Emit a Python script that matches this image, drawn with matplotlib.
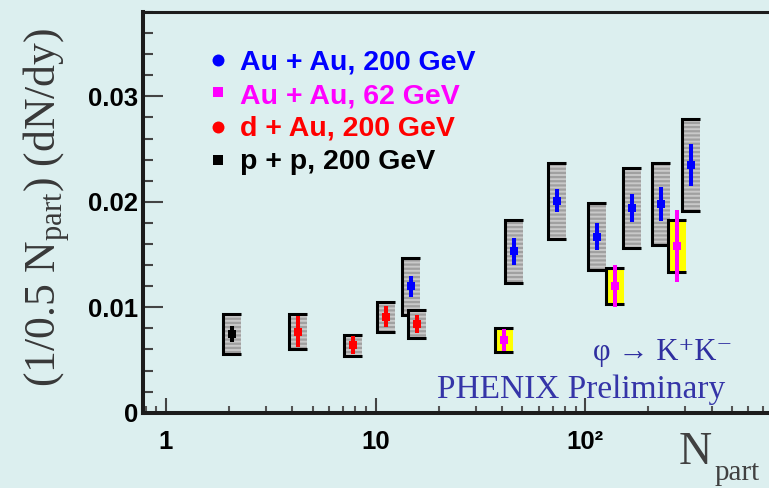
import matplotlib
matplotlib.use('Agg')
import matplotlib.pyplot as plt
from matplotlib.patches import Rectangle
from matplotlib.ticker import FixedLocator, MultipleLocator, NullFormatter, LogLocator

# Au + Au, 200 GeV
auau200_npart = [14.8, 45.6, 73.4, 113.8, 167, 229.8, 318.5]
auau200_y = [0.0120, 0.0153, 0.0201, 0.0167, 0.0194, 0.0198, 0.0235]
auau200_stat = [0.0010, 0.0013, 0.0011, 0.00125, 0.0013, 0.0016, 0.0020]
auau200_sys = [0.0027, 0.0030, 0.0036, 0.0032, 0.0038, 0.0039, 0.0044]

# Au + Au, 62 GeV
auau62_npart = [41, 139, 275]
auau62_y = [0.0069, 0.0120, 0.0158]
auau62_stat = [0.00105, 0.0020, 0.0034]
auau62_sys = [0.00114, 0.0017, 0.0025]

# d + Au, 200 GeV
dau_npart = [4.24, 7.82, 11.2, 15.8]
dau_y = [0.0077, 0.0064, 0.0091, 0.0084]
dau_stat = [0.0015, 0.00087, 0.00098, 0.00087]
dau_sys = [0.00166, 0.00101, 0.00144, 0.0013]

# p + p, 200 GeV
pp_npart = [2.07]
pp_y = [0.0075]
pp_stat = [0.00075]
pp_sys = [0.0019]

legend_labels = ['Au + Au, 200 GeV', 'Au + Au, 62 GeV', 'd + Au, 200 GeV', 'p + p, 200 GeV']
legend_colors = ['#0000ff', '#ff00ff', '#ff0000', '#000000']
legend_markers = ['o', 's', 'o', 's']

y_ticks = [0, 0.01, 0.02, 0.03]
y_ticklabels = ['0', '0.01', '0.02', '0.03']
x_ticks = [1, 10, 100]
x_ticklabels = ['1', '10', '10²']

bg = '#dcefef'
W, H = 769, 488
plt.rcParams['hatch.linewidth'] = 1.6


def fx(px):
    return px / W


def fy(py):
    return 1 - py / H


def caixas(ax, x, y, sys, cor, padrao):
    for xi, yi, si in zip(x, y, sys):
        x0 = xi / 1.104
        x1 = xi * 1.104
        ax.add_patch(Rectangle((x0, yi - si), x1 - x0, 2 * si, facecolor=cor,
                               edgecolor='none', lw=0, zorder=2))
        if padrao:
            ax.add_patch(Rectangle((x0, yi - si), x1 - x0, 2 * si, facecolor='none',
                                   edgecolor='#a0a0a0', hatch='----', lw=0, zorder=2))
        ax.plot([x1, x0, x0, x1], [yi + si, yi + si, yi - si, yi - si], color='black',
                lw=2.2, zorder=2, solid_joinstyle='miter', solid_capstyle='butt')


fig = plt.figure(figsize=(W / 100, H / 100), dpi=100, facecolor=bg)
ax = fig.add_axes([fx(143), 1 - 412.7 / H, (795 - 143) / W, (412.7 - 12) / H])
ax.set_facecolor(bg)

caixas(ax, auau200_npart, auau200_y, auau200_sys, '#c9c9c9', True)
caixas(ax, dau_npart, dau_y, dau_sys, '#c9c9c9', True)
caixas(ax, auau62_npart, auau62_y, auau62_sys, '#ffff00', False)
caixas(ax, pp_npart, pp_y, pp_sys, '#c9c9c9', True)

series = [
    (auau200_npart, auau200_y, auau200_stat, '#0000ff'),
    (auau62_npart, auau62_y, auau62_stat, '#ff00ff'),
    (dau_npart, dau_y, dau_stat, '#ff0000'),
    (pp_npart, pp_y, pp_stat, '#000000'),
]
for x, y, e, c in series:
    ax.errorbar(x, y, yerr=e, fmt='s', color=c, ms=6, mew=0, elinewidth=2.9,
                capsize=0, zorder=4)

ax.set_xscale('log')
ax.set_xlim(0.777, 1000)
ax.set_ylim(0, 0.038)

ax.yaxis.set_major_locator(FixedLocator(y_ticks))
ax.set_yticklabels(y_ticklabels, fontweight='bold', family='Liberation Sans', fontsize=18.5)
ax.yaxis.set_minor_locator(MultipleLocator(0.002))
ax.xaxis.set_major_locator(FixedLocator(x_ticks))
ax.set_xticklabels(x_ticklabels, fontweight='bold', family='Liberation Sans', fontsize=18.5)
ax.xaxis.set_minor_locator(LogLocator(base=10, subs=[2, 3, 4, 5, 6, 7, 8, 9]))
ax.xaxis.set_minor_formatter(NullFormatter())

ax.tick_params(axis='y', which='major', direction='in', length=14.5, width=1.5, color='#444444', pad=3.5)
ax.tick_params(axis='y', which='minor', direction='in', length=7.2, width=1.5, color='#444444')
ax.tick_params(axis='x', which='major', direction='in', length=10.8, width=1.5, color='#444444', pad=12.5)
ax.tick_params(axis='x', which='minor', direction='in', length=5, width=1.5, color='#555555')

for s in ['left', 'bottom']:
    ax.spines[s].set_linewidth(2.9)
    ax.spines[s].set_color('#1c1c1c')
ax.spines['top'].set_linewidth(2.2)
ax.spines['top'].set_color('#1c1c1c')
ax.spines['right'].set_visible(False)

# legenda
leg_marker_y = [60, 92, 127, 160]
leg_text_y = [70, 103, 136, 169]
for lab, c, m, my, ty in zip(legend_labels, legend_colors, legend_markers, leg_marker_y, leg_text_y):
    fig.add_artist(plt.Line2D([fx(218)], [fy(my)], marker=m, color=c, ms=8.6 if m == 'o' else 6.8,
                              mew=0, transform=fig.transFigure))
    fig.text(fx(240), fy(ty), lab, color=c, fontsize=20.5, fontweight='bold',
             family='Liberation Sans', va='baseline')

fig.text(fx(47), fy(207), r'(1/0.5 N$_{\mathregular{part}}$) (dN/dy)', rotation=90,
         ha='center', va='center', fontsize=31.5, family='Liberation Serif', color='#383838')
fig.text(fx(695), fy(464), 'N', ha='center', va='baseline', fontsize=33,
         family='Liberation Serif', color='#404040')
fig.text(fx(715), fy(480), 'part', ha='left', va='baseline', fontsize=21,
         family='Liberation Serif', color='#404040')

fig.text(fx(593), fy(360), 'φ → K⁺K⁻', fontsize=22, va='baseline',
         family=['Liberation Serif', 'DejaVu Serif'], color='#2f2fa0')
fig.text(fx(437), fy(398), 'PHENIX Preliminary', fontsize=24, va='baseline',
         family='Liberation Serif', color='#3535a8')

fig.savefig('out.png', dpi=100, facecolor=bg)
